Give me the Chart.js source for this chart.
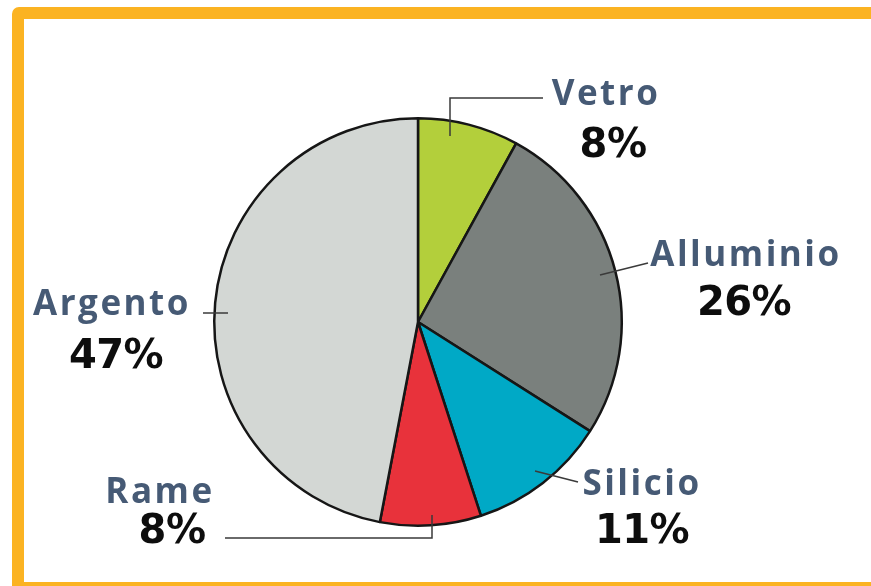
<!DOCTYPE html>
<html>
<head>
<meta charset="utf-8">
<script src="https://cdn.jsdelivr.net/npm/chart.js@4/dist/chart.umd.min.js"></script>
<style>
    html, body { margin: 0; padding: 0; background: #ffffff; overflow: hidden; }
    #frame {
        position: absolute;
        left: 12px;
        top: 7px;
        width: 890px;
        height: 587px;
        box-sizing: border-box;
        border: 12px solid #fbb322;
        border-radius: 7px;
    }
    #wrap { position: absolute; left: 0; top: 0; width: 871px; height: 586px; }
</style>
</head>
<body>
<div id="frame"></div>
<div id="wrap"><canvas id="materialsChart"></canvas></div>
<script>
// ======================
// DATA
// ======================
const materials = ["Vetro", "Alluminio", "Silicio", "Rame", "Argento"];
const shares = [8, 26, 11, 8, 47];
const sliceColors = ["#b3cf3b", "#7a807d", "#00a9c6", "#e8323b", "#d3d7d4"];

// label placement, in pixels relative to the pie centre
const labelLayout = [
    { name: [188, -217], pct: [195, -165], line: [[32, -186], [32, -224], [125, -224]] },
    { name: [328, -56], pct: [326, -7], line: [[182, -47], [230, -59]] },
    { name: [224, 173], pct: [224, 221], line: [[117, 149], [160, 160]] },
    { name: [-258, 181], pct: [-246, 221], line: [[14, 193], [14, 216], [-193, 216]] },
    { name: [-306, -7], pct: [-302, 46], line: [[-215, -9], [-190, -9]] }
];

// ======================
// CALLOUT LABELS PLUGIN
// ======================
const calloutLabels = {
    id: "calloutLabels",
    afterDatasetsDraw(chart) {
        const ctx = chart.ctx;
        const arc = chart.getDatasetMeta(0).data[0];
        if (!arc) return;
        const cx = arc.x;
        const cy = arc.y;

        ctx.save();
        labelLayout.forEach((lay, i) => {
            // leader line
            ctx.beginPath();
            ctx.strokeStyle = "#3a3a3a";
            ctx.lineWidth = 1.5;
            lay.line.forEach((p, j) => {
                if (j === 0) ctx.moveTo(cx + p[0], cy + p[1]);
                else ctx.lineTo(cx + p[0], cy + p[1]);
            });
            ctx.stroke();

            ctx.textAlign = "center";
            ctx.textBaseline = "alphabetic";

            // material name
            ctx.fillStyle = "#465a75";
            ctx.font = "bold 35px 'Open Sans'";
            ctx.letterSpacing = "2.5px";
            ctx.fillText(materials[i], cx + lay.name[0], cy + lay.name[1]);

            // percentage
            ctx.fillStyle = "#0d0d0d";
            ctx.font = "bold 40px 'DejaVu Sans'";
            ctx.letterSpacing = "-0.5px";
            ctx.fillText(shares[i] + "%", cx + lay.pct[0], cy + lay.pct[1]);
        });
        ctx.restore();
    }
};

// ======================
// RENDER PIE
// ======================
const ctx = document.getElementById("materialsChart");

new Chart(ctx, {
    type: "pie",
    data: {
        labels: materials,
        datasets: [{
            data: shares,
            backgroundColor: sliceColors,
            borderColor: "#161616",
            borderWidth: 2.5
        }]
    },
    options: {
        responsive: true,
        maintainAspectRatio: false,
        animation: false,
        layout: {
            padding: { top: 117, bottom: 59, left: 0, right: 35 }
        },
        plugins: {
            legend: { display: false },
            tooltip: { enabled: false }
        }
    },
    plugins: [calloutLabels]
});
</script>
</body>
</html>
